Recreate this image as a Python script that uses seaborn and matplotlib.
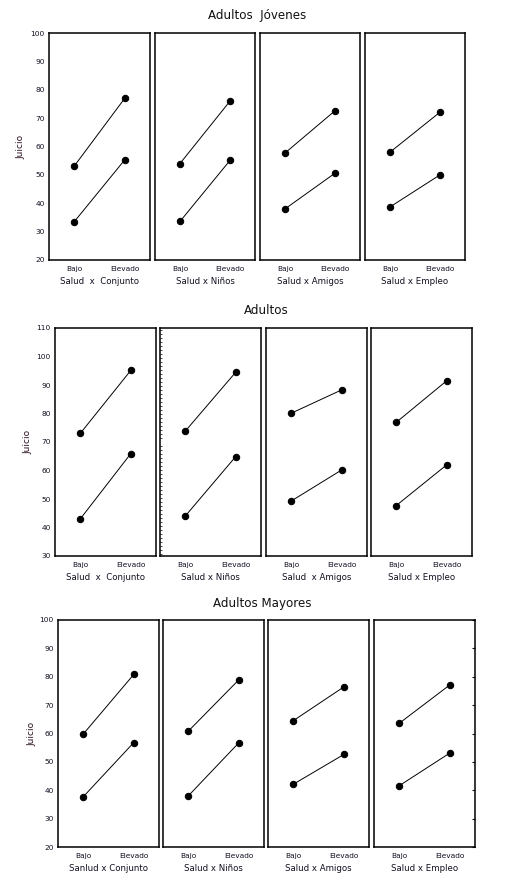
import pandas as pd
import matplotlib
matplotlib.use('Agg')
import matplotlib.pyplot as plt
from matplotlib.ticker import MultipleLocator, NullFormatter
import seaborn as sns

sns.set_style('white')
plt.rcParams['font.family'] = ['DejaVu Sans']

# niveles de salud (eje x) y factores de cada panel
niveles = ['Bajo', 'Elevado']
factores = ['Conjunto', 'Niños', 'Amigos', 'Empleo']

# etiquetas de cada fila (tal como aparecen en la figura)
titulos = ['Adultos  Jóvenes', 'Adultos', 'Adultos Mayores']
xlab_jov = ['Salud  x  Conjunto', 'Salud x Niños', 'Salud x Amigos', 'Salud x Empleo']
xlab_adu = ['Salud  x  Conjunto', 'Salud x Niños', 'Salud  x Amigos', 'Salud x Empleo']
xlab_may = ['Sanlud x Conjunto', 'Salud x Niños', 'Salud x Amigos', 'Salud x Empleo']

# valores de juicio: [Bajo, Elevado] por factor, linea superior e inferior
jov_sup = [[53.1, 77.0], [54.0, 76.0], [57.7, 72.6], [58.0, 72.1]]
jov_inf = [[33.5, 55.3], [33.6, 55.1], [38.0, 50.6], [38.7, 50.0]]
adu_sup = [[73.0, 95.1], [73.8, 94.5], [80.1, 88.3], [76.9, 91.5]]
adu_inf = [[43.0, 65.9], [44.0, 64.9], [49.3, 60.2], [47.7, 62.0]]
may_sup = [[59.8, 80.8], [60.8, 78.9], [64.5, 76.4], [63.6, 77.1]]
may_inf = [[37.7, 56.8], [38.0, 56.7], [42.1, 52.6], [41.6, 53.1]]

# limites del eje y por fila
ylims = [(20, 100), (30, 110), (20, 100)]

filas = [
    (jov_sup, jov_inf, xlab_jov),
    (adu_sup, adu_inf, xlab_adu),
    (may_sup, may_inf, xlab_may),
]

# armar tabla larga
registros = []
for f, (sup, inf, _) in enumerate(filas):
    for p, fac in enumerate(factores):
        for serie, vals in (('sup', sup[p]), ('inf', inf[p])):
            for nivel, v in zip(niveles, vals):
                registros.append({'fila': f, 'factor': fac, 'serie': serie,
                                  'nivel': nivel, 'juicio': v})
df = pd.DataFrame(registros)

W, H = 514, 889
fig = plt.figure(figsize=(W / 100, H / 100), dpi=100)

# posiciones de los paneles en pixeles (izq, der) y (arriba, abajo)
cols_px = [
    [(49, 150), (155, 255), (260, 360), (365, 465)],
    [(55, 156), (160, 261), (266, 367), (371, 472)],
    [(58, 159), (163, 264), (268, 369), (374, 475)],
]
filas_px = [(33, 260), (328, 556), (620, 847)]
titulo_px = [(257, 15), (266, 310), (262, 603)]
ylabel_x = [21, 28, 32]

for f, (sup, inf, xlabs) in enumerate(filas):
    top, bot = filas_px[f]
    first = None
    for p, fac in enumerate(factores):
        x0, x1 = cols_px[f][p]
        ax = fig.add_axes([x0 / W, 1 - bot / H, (x1 - x0) / W, (bot - top) / H],
                          sharey=first)
        if first is None:
            first = ax
        sub = df[(df['fila'] == f) & (df['factor'] == fac)]
        sns.lineplot(data=sub, x='nivel', y='juicio', units='serie',
                     estimator=None, color='black', marker='o', markersize=4.6,
                     markeredgecolor='black', linewidth=0.7, ax=ax)
        ax.set_xlim(-0.5, 1.5)
        ax.set_ylim(*ylims[f])
        ax.yaxis.set_major_locator(MultipleLocator(10))
        ax.tick_params(length=0, labelsize=5.3, pad=4, colors='#111122')
        ax.tick_params(axis='y', pad=3)
        ax.set_xlabel(xlabs[p], fontsize=6.2, labelpad=4, color='#111122')
        ax.set_ylabel('')
        for s in ax.spines.values():
            s.set_linewidth(1.1)
            s.set_color('black')
        if p > 0:
            ax.tick_params(axis='y', labelleft=False)
        # detalles de ejes del original
        if f == 1 and p == 1:
            ax.yaxis.set_minor_locator(MultipleLocator(1.4))
            ax.yaxis.set_minor_formatter(NullFormatter())
            ax.tick_params(axis='y', which='minor', direction='in',
                           length=1.5, width=0.6, left=True)
        if f == 2 and p == 3:
            ax.tick_params(axis='y', which='major', direction='in', right=True,
                           length=2.5, width=0.8, labelright=False)
    fig.text(ylabel_x[f] / W, 1 - (top + bot) / 2 / H, 'Juicio', rotation=90,
             ha='center', va='center', fontsize=6.5, color='#2a1020')
    tx, ty = titulo_px[f]
    fig.text(tx / W, 1 - ty / H, titulos[f], ha='center', va='center',
             fontsize=8.6, color='#111111')

fig.savefig('out.png', dpi=100, facecolor='white')
